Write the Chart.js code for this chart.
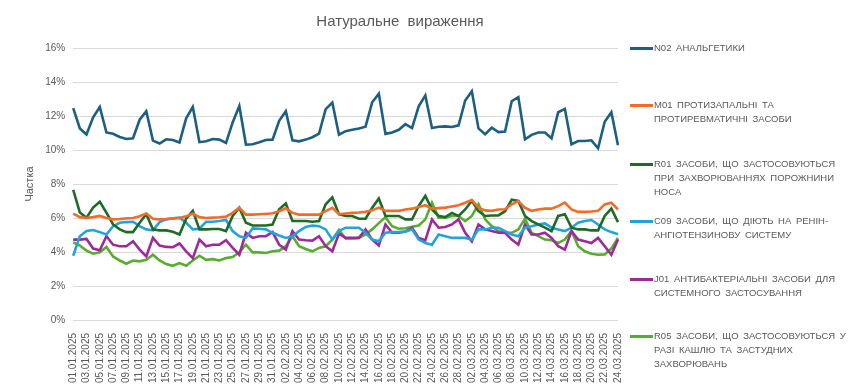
<!DOCTYPE html>
<html>
<head>
<meta charset="utf-8">
<script src="https://cdn.jsdelivr.net/npm/chart.js@4.4.1/dist/chart.umd.min.js"></script>
<style>
    body { margin: 0; background: #fff; }
    #wrap { position: relative; width: 850px; height: 392px; font-family: "Liberation Sans", Arial, sans-serif; color: #595959; }
    #title { position: absolute; left: 0; width: 800px; top: 12px; text-align: center; font-size: 15px; word-spacing: 4px; }
    #legend { position: absolute; left: 630px; top: 0; width: 220px; }
    .item { position: absolute; left: 0; width: 220px; font-size: 9.5px; line-height: 14px; letter-spacing: 0; word-spacing: 2px; }
    .item .swatch { position: absolute; left: 0; top: 6px; width: 23px; height: 3px; }
    .item .txt { padding-left: 24px; display: block; }
</style>
</head>
<body>
<div id="wrap">
    <canvas id="chart" width="850" height="392"></canvas>
    <div id="title">Натуральне вираження</div>
    <div id="legend"></div>
</div>
<script>
// ==================== DATA ====================
const dates = [
    '01.01.2025', '02.01.2025', '03.01.2025', '04.01.2025', '05.01.2025', '06.01.2025', '07.01.2025', '08.01.2025',
    '09.01.2025', '10.01.2025', '11.01.2025', '12.01.2025', '13.01.2025', '14.01.2025', '15.01.2025', '16.01.2025',
    '17.01.2025', '18.01.2025', '19.01.2025', '20.01.2025', '21.01.2025', '22.01.2025', '23.01.2025', '24.01.2025',
    '25.01.2025', '26.01.2025', '27.01.2025', '28.01.2025', '29.01.2025', '30.01.2025', '31.01.2025',
    '01.02.2025', '02.02.2025', '03.02.2025', '04.02.2025', '05.02.2025', '06.02.2025', '07.02.2025', '08.02.2025',
    '09.02.2025', '10.02.2025', '11.02.2025', '12.02.2025', '13.02.2025', '14.02.2025', '15.02.2025', '16.02.2025',
    '17.02.2025', '18.02.2025', '19.02.2025', '20.02.2025', '21.02.2025', '22.02.2025', '23.02.2025', '24.02.2025',
    '25.02.2025', '26.02.2025', '27.02.2025', '28.02.2025',
    '01.03.2025', '02.03.2025', '03.03.2025', '04.03.2025', '05.03.2025', '06.03.2025', '07.03.2025', '08.03.2025',
    '09.03.2025', '10.03.2025', '11.03.2025', '12.03.2025', '13.03.2025', '14.03.2025', '15.03.2025', '16.03.2025',
    '17.03.2025', '18.03.2025', '19.03.2025', '20.03.2025', '21.03.2025', '22.03.2025', '23.03.2025', '24.03.2025'
];

const yTicks = [0, 2, 4, 6, 8, 10, 12, 14, 16];

// share, %
const n02 = [
    12.46, 11.27, 10.91, 11.92, 12.53, 11.03, 10.95, 10.77, 10.65, 10.69, 11.78, 12.28, 10.55, 10.38, 10.63, 10.59,
    10.44, 11.86, 12.53, 10.46, 10.51, 10.65, 10.61, 10.42, 11.62, 12.59, 10.32, 10.34, 10.46, 10.59, 10.61,
    11.72, 12.28, 10.57, 10.51, 10.61, 10.75, 10.97, 12.40, 12.79, 10.90, 11.11, 11.19, 11.27, 11.37, 12.81, 13.31,
    10.95, 11.03, 11.19, 11.52, 11.29, 12.57, 13.21, 11.29, 11.37, 11.39, 11.35, 11.45,
    12.91, 13.45, 11.27, 10.93, 11.31, 11.05, 11.09, 12.87, 13.11, 10.63, 10.89, 11.03, 11.03, 10.69, 12.22, 12.42,
    10.34, 10.53, 10.53, 10.57, 10.10, 11.66, 12.22, 10.28
];
const m01 = [
    6.26, 6.05, 6.00, 6.05, 6.12, 6.00, 5.92, 5.94, 5.98, 6.00, 6.10, 6.26, 5.96, 5.92, 5.94, 5.98,
    6.00, 6.10, 6.26, 6.05, 6.00, 6.02, 6.04, 6.08, 6.30, 6.60, 6.20, 6.20, 6.22, 6.24, 6.28,
    6.40, 6.57, 6.30, 6.20, 6.20, 6.20, 6.20, 6.40, 6.60, 6.22, 6.26, 6.30, 6.32, 6.36, 6.45, 6.61,
    6.42, 6.42, 6.42, 6.50, 6.55, 6.65, 6.75, 6.55, 6.58, 6.61, 6.68, 6.75,
    6.90, 7.05, 6.61, 6.45, 6.42, 6.50, 6.51, 6.80, 7.00, 6.60, 6.42, 6.50, 6.55, 6.55, 6.70, 6.90,
    6.50, 6.36, 6.36, 6.38, 6.42, 6.80, 6.90, 6.50
];
const r01 = [
    7.66, 6.32, 6.02, 6.61, 6.95, 6.32, 5.62, 5.33, 5.17, 5.17, 5.72, 6.22, 5.33, 5.27, 5.27, 5.19,
    5.03, 5.96, 6.42, 5.33, 5.33, 5.35, 5.35, 5.23, 6.12, 6.61, 5.72, 5.56, 5.56, 5.56, 5.62,
    6.51, 6.85, 5.82, 5.82, 5.82, 5.78, 5.82, 6.81, 7.21, 6.22, 6.12, 6.12, 5.96, 5.96, 6.60, 7.15,
    6.12, 6.12, 6.12, 5.92, 5.92, 6.71, 7.30, 6.50, 6.12, 6.05, 6.30, 6.12,
    6.50, 7.01, 6.40, 6.12, 6.15, 6.15, 6.40, 7.07, 7.00, 6.12, 5.82, 5.62, 5.43, 5.23, 6.12, 6.22,
    5.43, 5.33, 5.33, 5.27, 5.27, 6.12, 6.55, 5.76
];
const c09 = [
    3.78, 4.93, 5.23, 5.29, 5.17, 5.03, 5.52, 5.72, 5.76, 5.78, 5.52, 5.33, 5.27, 5.76, 5.92, 5.98,
    6.02, 5.72, 5.33, 5.37, 5.78, 5.78, 5.82, 5.88, 5.23, 4.93, 4.83, 5.39, 5.37, 5.33, 5.13,
    4.97, 4.83, 4.93, 5.23, 5.47, 5.56, 5.52, 5.33, 4.73, 5.23, 5.43, 5.43, 5.43, 5.13, 4.73, 4.63,
    5.13, 5.17, 5.17, 5.20, 5.33, 4.73, 4.53, 4.43, 5.03, 4.93, 4.83, 4.83,
    4.83, 4.73, 5.33, 5.33, 5.43, 5.43, 5.23, 5.03, 4.93, 5.43, 5.52, 5.62, 5.68, 5.43, 5.33, 5.23,
    5.43, 5.72, 5.82, 5.88, 5.62, 5.33, 5.17, 5.05
];
const j01 = [
    4.73, 4.73, 4.77, 4.20, 4.10, 4.93, 4.43, 4.34, 4.34, 4.63, 4.14, 3.74, 4.83, 4.38, 4.30, 4.28,
    4.50, 4.04, 3.64, 4.73, 4.34, 4.43, 4.43, 4.69, 4.24, 3.84, 5.13, 4.83, 4.93, 4.93, 5.17,
    4.43, 4.14, 5.23, 4.73, 4.69, 4.67, 4.93, 4.34, 4.04, 5.08, 4.83, 4.83, 4.83, 5.33, 4.73, 4.38,
    5.62, 5.13, 5.13, 5.20, 5.43, 4.83, 4.69, 5.92, 5.43, 5.47, 5.62, 5.92,
    5.13, 4.63, 5.62, 5.33, 5.23, 5.13, 5.13, 4.73, 4.43, 5.62, 5.03, 5.03, 5.13, 4.83, 4.34, 4.14,
    5.23, 4.73, 4.63, 4.53, 4.83, 4.34, 3.84, 4.73
];
const r05 = [
    4.57, 4.38, 4.08, 3.90, 3.98, 4.30, 3.74, 3.50, 3.31, 3.50, 3.45, 3.54, 3.84, 3.50, 3.29, 3.19,
    3.35, 3.19, 3.50, 3.78, 3.54, 3.58, 3.50, 3.64, 3.70, 3.98, 4.43, 3.98, 3.98, 3.94, 4.04,
    4.08, 4.34, 4.93, 4.34, 4.18, 4.04, 4.24, 4.34, 4.73, 5.30, 4.79, 4.79, 4.83, 5.03, 5.33, 5.70,
    6.05, 5.52, 5.37, 5.40, 5.49, 5.56, 5.92, 6.90, 6.02, 6.02, 6.12, 6.12,
    5.82, 6.12, 6.81, 5.92, 5.52, 5.23, 5.13, 5.13, 5.33, 5.96, 5.13, 4.93, 4.73, 4.69, 4.53, 4.73,
    5.23, 4.34, 4.04, 3.90, 3.84, 3.86, 4.20, 4.83
];

const seriesNames = [
    'N02  АНАЛЬГЕТИКИ',
    'M01  ПРОТИЗАПАЛЬНІ  ТА  ПРОТИРЕВМАТИЧНІ  ЗАСОБИ',
    'R01  ЗАСОБИ,  ЩО  ЗАСТОСОВУЮТЬСЯ  ПРИ  ЗАХВОРЮВАННЯХ ПОРОЖНИНИ НОСА',
    'C09  ЗАСОБИ,  ЩО  ДІЮТЬ  НА  РЕНІН-АНГІОТЕНЗИНОВУ СИСТЕМУ',
    'J01  АНТИБАКТЕРІАЛЬНІ  ЗАСОБИ  ДЛЯ  СИСТЕМНОГО  ЗАСТОСУВАННЯ',
    'R05  ЗАСОБИ,  ЩО  ЗАСТОСОВУЮТЬСЯ  У  РАЗІ  КАШЛЮ  ТА  ЗАСТУДНИХ  ЗАХВОРЮВАНЬ'
];
const seriesValues = [n02, m01, r01, c09, j01, r05];
const seriesColors = ['#1c5f80', '#f26b2b', '#1e6b25', '#22a3dc', '#9c2a98', '#58ad2e'];
const legendTops = [41, 98, 157, 214, 272, 329];

// ==================== CHART ====================
const chart = new Chart(document.getElementById('chart'), {
    type: 'line',
    data: {
        labels: dates,
        datasets: seriesValues.map((vals, i) => ({
            label: seriesNames[i],
            data: vals,
            borderColor: seriesColors[i],
            backgroundColor: seriesColors[i],
            borderWidth: 2.6,
            pointRadius: 0,
            tension: 0,
            fill: false
        }))
    },
    options: {
        responsive: false,
        animation: false,
        layout: { padding: { top: 48, right: 232, left: 20, bottom: 0 } },
        plugins: {
            legend: { display: false },
            title: { display: false },
            tooltip: { enabled: false }
        },
        scales: {
            x: {
                offset: false,
                grid: { display: false },
                border: { display: false },
                afterFit: (axis) => { axis.height = 72; },
                ticks: {
                    autoSkip: false,
                    minRotation: 90,
                    maxRotation: 90,
                    padding: 5,
                    color: '#595959',
                    font: { size: 10, family: 'Liberation Sans' },
                    callback: function (v, i) { return i % 2 === 0 ? dates[i] : ''; }
                }
            },
            y: {
                min: 0,
                max: 16,
                afterBuildTicks: (axis) => { axis.ticks = yTicks.map(v => ({ value: v })); },
                grid: { color: '#d9d9d9', drawTicks: false },
                border: { display: false },
                title: {
                    display: true,
                    text: 'Частка',
                    color: '#595959',
                    padding: { top: 3, bottom: 1 },
                    font: { size: 11, family: 'Liberation Sans' }
                },
                ticks: {
                    padding: 8,
                    color: '#595959',
                    font: { size: 10, family: 'Liberation Sans' },
                    callback: (v) => v + '%'
                }
            }
        }
    }
});

// ==================== LEGEND ====================
const legend = document.getElementById('legend');
seriesNames.forEach((name, i) => {
    const item = document.createElement('div');
    item.className = 'item';
    item.style.top = legendTops[i] + 'px';
    item.innerHTML = '<span class="swatch" style="background:' + seriesColors[i] + '"></span>' +
        '<span class="txt"></span>';
    item.querySelector('.txt').textContent = name;
    legend.appendChild(item);
});
</script>
</body>
</html>
